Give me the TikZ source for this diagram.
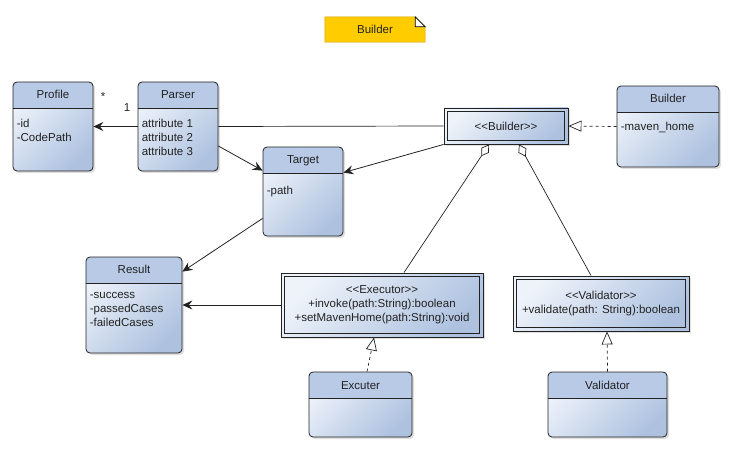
\documentclass[tikz,border=0pt]{standalone}
\usepackage{fontspec}
\setmainfont{Liberation Sans}
\usetikzlibrary{positioning}
\usetikzlibrary{arrows.meta, shadows, backgrounds}

\definecolor{headblue}{HTML}{B8CAE6}
\definecolor{bodylight}{HTML}{EEF3FA}
\definecolor{bodydark}{HTML}{AEC2E0}
\definecolor{noteyellow}{HTML}{FFCC00}
\definecolor{linegray}{HTML}{222222}

\newcommand{\stereo}[1]{{<}{<}#1{>}{>}}

\begin{document}
\begin{tikzpicture}[x=1pt, y=-1pt,
			font=\fontsize{11.5}{14}\selectfont,
			every node/.style={text=linegray},
			boxbody/.style={shade, top color=bodylight, bottom color=bodydark,
				shading angle=45, draw=linegray, line width=0.8pt,
				drop shadow={shadow xshift=2pt, shadow yshift=-2pt, opacity=0.25}},
			umlclass/.style={boxbody, rounded corners=4pt, inner sep=0pt,
				path picture={
					\fill[headblue, sharp corners] (path picture bounding box.north west)
					rectangle ([yshift=-26pt]path picture bounding box.north east);
					\draw[linegray, line width=0.8pt, sharp corners]
					([yshift=-26pt]path picture bounding box.north west)
					-- ([yshift=-26pt]path picture bounding box.north east);}},
			umlif/.style={boxbody, line width=0.9pt, align=center, inner sep=0pt,
				path picture={
					\draw[linegray, line width=0.9pt]
					([xshift=3.5pt, yshift=-3.5pt]path picture bounding box.north west)
					rectangle ([xshift=-3.5pt, yshift=3.5pt]path picture bounding box.south east);}},
			title/.style={anchor=base, inner sep=0pt},
			attrs/.style={anchor=north west, align=left, inner sep=0pt,
				execute at begin node={\rule{0pt}{8pt}}},
			assoc/.style={-{Stealth[length=10pt, width=9pt, inset=3.5pt]},
				line width=0.8pt, draw=linegray},
			realize/.style={-{Triangle[open, length=13pt, width=11pt]},
				dashed, line width=0.7pt, draw=linegray},
			aggr/.style={{Diamond[open, length=14pt, width=9pt]}-,
				line width=0.7pt, draw=linegray}
			]
			\useasboundingbox (0,0) rectangle (738,473);

			% note
			\node (note) [minimum width=100pt, minimum height=25pt, inner sep=0pt] at (375,29.5) {Builder};
			\begin{scope}[on background layer]
				\draw[fill=noteyellow, draw=noteyellow!80!black, line width=0.5pt]
				(note.south west) -- (note.north west) -- ([xshift=-10pt]note.north east)
				-- ([yshift=-10pt]note.north east) -- (note.south east) -- cycle;
				\draw[fill=white, line width=0.6pt] ([xshift=-10pt]note.north east)
				-- ([xshift=-10pt, yshift=-10pt]note.north east) -- ([yshift=-10pt]note.north east) -- cycle;
			\end{scope}

			% classes
			\node (profile) [umlclass, minimum width=80pt, minimum height=89pt] at (53,126.5) {};
			\node (profiletitle) [title] at ([yshift=-17pt]profile.north) {Profile};
			\node (profileattr) [attrs] at ([xshift=4pt, yshift=-37pt]profile.north west) {-id\\-CodePath};

			\node (parser) [umlclass, minimum width=80pt, minimum height=89pt] at (178,126.5) {};
			\node (parsertitle) [title] at ([yshift=-17pt]parser.north) {Parser};
			\node (parserattr) [attrs] at ([xshift=4pt, yshift=-37pt]parser.north west) {attribute 1\\attribute 2\\attribute 3};

			\node (target) [umlclass, minimum width=80pt, minimum height=89pt] at (303,191.5) {};
			\node (targettitle) [title] at ([yshift=-17pt]target.north) {Target};
			\node (targetattr) [attrs] at ([xshift=4pt, yshift=-39pt]target.north west) {-path};

			\node (result) [umlclass, minimum width=96pt, minimum height=96pt] at (134,305) {};
			\node (resulttitle) [title] at ([yshift=-17pt]result.north) {Result};
			\node (resultattr) [attrs] at ([xshift=4pt, yshift=-36pt]result.north west) {-success\\-passedCases\\-failedCases};

			\node (builder) [umlclass, minimum width=102pt, minimum height=81pt] at (668,126.5) {};
			\node (buildertitle) [title] at ([yshift=-17pt]builder.north) {Builder};
			\node (builderattr) [attrs] at ([xshift=4pt, yshift=-36pt]builder.north west) {-maven\_home};

			\node (excuter) [umlclass, minimum width=103pt, minimum height=65pt] at (360.5,404.5) {};
			\node (excutertitle) [title] at ([yshift=-18pt]excuter.north) {Excuter};

			\node (validator) [umlclass, minimum width=119pt, minimum height=65pt] at (607.5,404.5) {};
			\node (validatortitle) [title] at ([yshift=-18pt]validator.north) {Validator};

			% interfaces
			\node (builderif) [umlif, minimum width=124pt, minimum height=36pt] at (506,126) {\stereo{Builder}};
			\node (execif) [umlif, minimum width=202pt, minimum height=64pt] at (382,305)
			{\stereo{Executor}\\+invoke(path:String):boolean\\+setMavenHome(path:String):void};
			\node (validif) [umlif, minimum width=176pt, minimum height=55pt] at (601,303.5)
			{\stereo{Validator}\\+validate(path: String):boolean};

			% multiplicities
			\node (multstar) at (103,97) {*};
			\node (multone) at (127,108) {1};

			% connectors
			\draw[assoc] (parser.west) -- (profile.east);
			\draw[line width=0.7pt, draw=linegray] (builderif.west) -- (parser.east);
			\draw[assoc] ([yshift=-19.5pt]parser.east) -- ([yshift=-24pt]target.north west);
			\draw[assoc] (builderif.south west) -- ([yshift=-26pt]target.north east);
			\draw[realize] (builder.west) -- (builderif.east);
			\draw[aggr] ([xshift=-17pt]builderif.south) -- ([xshift=22pt]execif.north);
			\draw[aggr] ([xshift=13pt]builderif.south) -- ([xshift=-10pt]validif.north);
			\draw[assoc] ([yshift=18pt]target.south west) -- ([yshift=-15pt]result.north east);
			\draw[assoc] (execif.west) -- (result.east);
			\draw[realize] ([xshift=6.5pt]excuter.north) -- ([xshift=-8pt]execif.south);
			\draw[realize] (validator.north) -- ([xshift=6pt]validif.south);
		\end{tikzpicture}
\end{document}
